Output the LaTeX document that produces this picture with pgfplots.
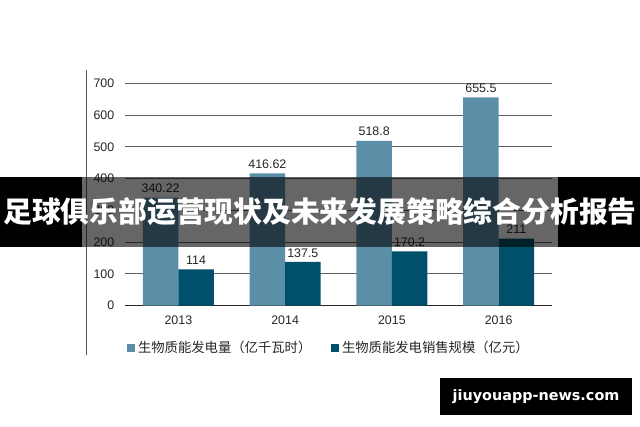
\documentclass[border=0pt]{standalone}
\usepackage{pgfplots}
\pgfplotsset{compat=1.18}
\usepackage{fontspec}
\setmainfont{Liberation Sans}
\newfontfamily\cjk{Noto Sans CJK SC}
\newfontfamily\wm{DejaVu Sans}
\definecolor{lightbar}{HTML}{5B8FA8}
\definecolor{darkbar}{HTML}{00506B}
\definecolor{txt}{HTML}{262626}
\begin{document}
\begin{tikzpicture}[x=0.75pt,y=0.75pt]
\useasboundingbox (0,0) rectangle (640,426);
\fill[white] (0,0) rectangle (640,426);
\draw[gray!70!black, line width=0.75pt] (86.5,426-70) -- (86.5,426-355);
\begin{axis}[
  at={(93.75pt,90.375pt)}, anchor=south west,
  scale only axis, width=320.25pt, height=166.65pt,
  xmin=-0.5, xmax=3.5, ymin=0, ymax=700,
  ybar=0pt, bar width=26.6pt,
  xtick=data, xticklabels={2013,2014,2015,2016},
  ytick={0,100,...,700},
  major tick length=0pt,
  axis x line*=bottom, axis y line*=left,
  y axis line style={draw=none},
  x axis line style={draw=black!85, line width=0.9pt, -},
  ymajorgrids, grid style={gray!75!black, line width=0.7pt},
  tick label style={font=\fontsize{9.3}{10}\selectfont, text=txt},
  yticklabel style={xshift=-4.5pt},
  xticklabel style={yshift=-4pt},
  /pgf/number format/assume math mode=true,
  nodes near coords,
  nodes near coords style={font=\fontsize{9.3}{10}\selectfont, text=txt, /pgf/number format/fixed, /pgf/number format/precision=2},
  legend style={at={(0.005,-0.19)}, anchor=west, draw=none, fill=none,
    legend columns=2, font=\cjk\fontsize{10}{11}\selectfont, text=txt,
    /tikz/every even column/.append style={column sep=13pt},
    inner sep=0pt},
  legend image code/.code={\fill[#1] (0pt,-3pt) rectangle (6pt,3pt);},
  clip=false,
]
\addplot[fill=lightbar, draw=none] coordinates {(0,340.22) (1,416.62) (2,518.8) (3,655.5)};
\addplot[fill=darkbar, draw=none] coordinates {(0,114) (1,137.5) (2,170.2) (3,211)};
\legend{生物质能发电量（亿千瓦时）, 生物质能发电销售规模（亿元）}
\end{axis}
% banner overlay
\fill[black] (0,426-177) rectangle (82,426-247);
\fill[black] (558,426-177) rectangle (640,426-247);
\fill[black, opacity=0.6] (82,426-177) rectangle (558,426-247);
\node[text=white, inner sep=0pt] at (320,426-212) {\resizebox{475pt}{!}{\cjk\bfseries\fontsize{23.7}{26}\selectfont 足球俱乐部运营现状及未来发展策略综合分析报告}};
% watermark box
\fill[black] (440,426-378) rectangle (632,426-415);
\node[text=white, font=\wm\bfseries\fontsize{10.8}{12}\selectfont, inner sep=0pt] at (536,426-397) {jiuyouapp-news.com};
\end{tikzpicture}
\end{document}
